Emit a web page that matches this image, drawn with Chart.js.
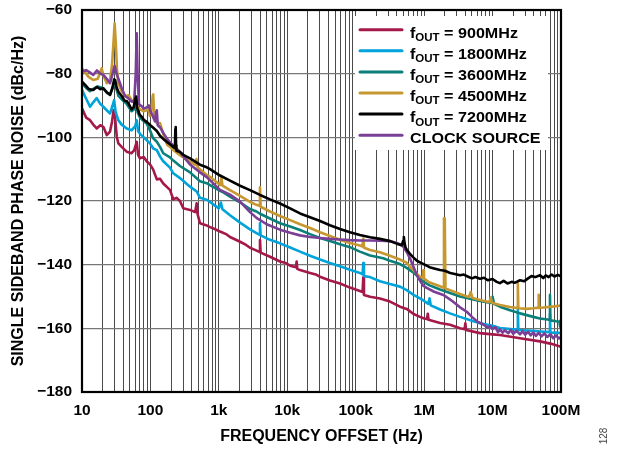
<!DOCTYPE html>
<html>
<head>
<meta charset="utf-8">
<script src="https://cdn.jsdelivr.net/npm/chart.js@4.4.0/dist/chart.umd.min.js"></script>
<style>
html,body{margin:0;padding:0;background:#fff;}
#wrap{position:relative;width:618px;height:449px;}
</style>
</head>
<body>
<div id="wrap"><canvas id="c" width="618" height="449"></canvas></div>
<script>
// ---- tick definitions ----
const xDecadeLabels = ['10', '100', '1k', '10k', '100k', '1M', '10M', '100M'];
const yTickValues = [-180, -160, -140, -120, -100, -80, -60];

// ---- series names / colours ----
const seriesNames = ['900MHz', '1800MHz', '3600MHz', '4500MHz', '7200MHz', 'CLOCK SOURCE'];
const seriesColors = ['#A4194A', '#00A3DA', '#0B7F7A', '#C6982F', '#000000', '#7B3F96'];

// ---- data: [offset frequency (Hz), phase noise (dBc/Hz)] ----
const pn900 = [
[10,-90.9],[11.5,-93.8],[13.1,-94.6],[14.6,-96],[16.4,-97.2],[18.5,-96.2],[20.5,-96.7],[23,-99.3],[25.7,-98.2],[27.5,-95],[29,-91.4],[30.5,-94],[32.2,-99.8],[34,-101.9],[38,-103],[45,-104.5],[53,-105],[58,-104],[63,-101.4],[66,-105.5],[70.4,-106.6],[80,-106.2],[88,-107.5],[98.6,-108.5],[109,-110],[124,-113.2],[138,-113],[154,-114.5],[193,-116.5],[216,-119.5],[240,-119],[270,-120],[302,-122.3],[379,-122.8],[450,-123.5],[474,-120.7],[490,-124.2],[530,-127],[650,-127.6],[743,-128.2],[870,-128.8],[1040,-129.6],[1300,-130.5],[1456,-131.3],[2040,-132.8],[2500,-133.8],[2853,-134.7],[3500,-135.5],[3900,-136],[3990,-132.3],[4080,-136.2],[5590,-137.5],[7820,-139],[9500,-139.5],[11000,-140.3],[13400,-140.8],[13700,-139],[14000,-141.3],[15350,-141.7],[21500,-142.6],[26900,-143.2],[30100,-143.8],[42000,-145],[58900,-145.9],[82400,-147.2],[115000,-148.3],[126000,-148.6],[129000,-144],[132000,-149.5],[162000,-150.1],[226000,-150.6],[317000,-151.6],[444000,-153.2],[556000,-153.9],[700000,-155.5],[869000,-156.4],[1.0e6,-156.9],[1.1e6,-157.1],[1.13e6,-155.4],[1.16e6,-157.3],[1.71e6,-158.3],[2.39e6,-158.9],[3.34e6,-160],[3.9e6,-160.3],[4.0e6,-158.4],[4.1e6,-160.5],[6.55e6,-161.5],[1e7,-161.9],[1.28e7,-162.1],[2.52e7,-163.1],[4.93e7,-164.1],[7e7,-164.8],[1e8,-165.8]
];
const pn1800 = [
[10,-85.1],[11,-87],[13.1,-90.4],[14.6,-89],[16.4,-87.7],[18.5,-89.5],[20.5,-90.4],[23,-91.5],[25.7,-92.5],[28,-90],[29.5,-88.3],[31,-92],[33.9,-94.6],[38,-96],[45,-97.2],[53,-97.8],[60,-96.5],[63,-94.6],[66,-98],[70.4,-98.9],[80,-100],[98.6,-101.9],[110,-103.5],[124,-104],[138,-106],[154,-107.5],[193,-109.5],[216,-111.3],[270,-112.8],[379,-115.5],[474,-117],[530,-119],[665,-119.6],[743,-120.3],[900,-121.6],[1000,-122.3],[1070,-120.5],[1130,-122.6],[1456,-124.5],[2040,-126.8],[2853,-128.9],[3500,-130],[3900,-130.6],[3990,-127],[4080,-130.8],[5590,-132.2],[7820,-133.3],[11000,-134.6],[15350,-135.9],[21500,-137.2],[30100,-138.4],[42000,-139.5],[58900,-140.5],[82400,-141.6],[115000,-142.6],[126000,-143],[129000,-139.5],[132000,-143.6],[162000,-143.9],[226000,-145.2],[317000,-146.1],[444000,-146.9],[556000,-148],[700000,-149.5],[869000,-150.6],[1.0e6,-151.4],[1.15e6,-152.3],[1.2e6,-150.6],[1.25e6,-152.8],[1.71e6,-154.1],[2.39e6,-155.3],[3.34e6,-156.4],[4.5e6,-157.3],[6.55e6,-158.4],[1e7,-159.2],[1.28e7,-159.9],[2.0e7,-160.3],[2.3e7,-160.4],[2.34e7,-153.7],[2.38e7,-160.5],[3.2e7,-160.7],[3.94e7,-160.8],[5e7,-161],[6.8e7,-161.2],[6.9e7,-155.5],[7.0e7,-161.4],[8.5e7,-161.3],[1e8,-161.5]
];
const pn3600 = [
[10,-83],[11.5,-84.5],[13.1,-85.5],[14.6,-84.8],[17,-84],[20.5,-84.6],[23,-86],[25.7,-86.5],[28,-84.5],[30,-82.5],[32,-85],[34,-87],[40,-88.5],[45,-89.5],[53,-91.8],[59,-91],[62,-88.5],[65,-92.2],[70.4,-93.8],[80,-95],[88,-95.6],[98.6,-97.8],[109,-100.2],[124,-101.4],[138,-103],[154,-105],[193,-106.3],[216,-107.3],[270,-109],[379,-111],[530,-113.8],[665,-114.4],[743,-115],[1040,-116.8],[1160,-117.3],[1456,-118.6],[2040,-120.4],[2853,-122.5],[3550,-123.3],[3990,-124],[5590,-125.5],[7820,-127],[11000,-128],[15350,-129.1],[21500,-130.4],[30100,-131.6],[42000,-132.6],[58900,-133.6],[82400,-134.5],[115000,-135.9],[162000,-137.1],[253000,-138],[317000,-138.8],[444000,-139.8],[556000,-141],[700000,-142.5],[869000,-144.4],[1.0e6,-145.5],[1.2e6,-146.5],[1.71e6,-147.8],[2.39e6,-148.9],[3.34e6,-150],[4.5e6,-150.6],[6.55e6,-151.4],[9.5e6,-152],[1e7,-150.1],[1.05e7,-152.3],[1.28e7,-153.2],[1.8e7,-154.3],[2.52e7,-155.3],[3.94e7,-156.4],[4.93e7,-156.9],[6.8e7,-157.3],[6.9e7,-149.5],[7.0e7,-157.5],[8.5e7,-157.8],[9.5e7,-157.9],[9.7e7,-159.5],[9.9e7,-157.5],[1e8,-157.4]
];
const pn4500 = [
[10,-78.3],[11,-79.5],[12.5,-81],[14.6,-82],[17,-81.6],[18.5,-79.5],[19.4,-78.3],[20.5,-80.5],[23,-83],[25.7,-82],[27.5,-77],[28.8,-70.5],[30,-64.2],[31.2,-70.5],[32.5,-79],[33.9,-83],[38,-85.5],[42.5,-87],[48,-86.8],[53.2,-88.3],[60,-89.5],[70.4,-91.2],[80,-91.8],[88,-91.5],[93,-90.5],[98,-93.3],[104,-91],[108,-87],[110,-86.5],[113,-93],[124,-95.5],[138,-95.5],[154,-99],[175,-102.3],[193,-103],[216,-104],[270,-105.6],[379,-107.6],[450,-108.6],[470,-106.8],[490,-109.4],[530,-110],[665,-111.8],[800,-112.9],[1040,-115],[1090,-112.8],[1130,-115.2],[1456,-116.6],[2040,-118.4],[2853,-120.3],[3550,-121.2],[3900,-121.5],[3990,-115.7],[4080,-121.8],[5590,-123.3],[7820,-124.7],[11000,-126],[15350,-127.3],[21500,-128.5],[30100,-129.8],[42000,-131],[58900,-132.2],[82400,-133.2],[115000,-134],[125000,-134.3],[129000,-131.8],[133000,-134.7],[162000,-135.4],[226000,-136.1],[317000,-137.2],[444000,-138.4],[556000,-139.4],[621000,-140.6],[778000,-142.8],[869000,-143.8],[960000,-144.1],[975000,-141.8],[995000,-144.4],[1.2e6,-145.6],[1.52e6,-146.4],[1.9e6,-147.2],[1.95e6,-125.4],[2.0e6,-125.4],[2.05e6,-147.5],[2.39e6,-148],[3.34e6,-149.2],[4.5e6,-150.2],[4.8e6,-148.6],[5.1e6,-150.5],[6.55e6,-151.1],[9e6,-151.8],[9.4e6,-150.3],[9.8e6,-152],[1.28e7,-152.7],[1.8e7,-153.3],[2.3e7,-153.6],[2.34e7,-145.9],[2.38e7,-153.7],[3.2e7,-153.9],[3.94e7,-153.7],[4.66e7,-153.5],[4.72e7,-149.5],[4.78e7,-153.6],[6e7,-153.4],[8e7,-153.1],[1e8,-152.8]
];
const pn7200 = [
[10,-82.5],[11.2,-83.6],[12.5,-84.8],[14.6,-85.1],[16.5,-84.2],[18.5,-84.9],[20.5,-84.6],[23,-85.8],[25.7,-86.7],[27.8,-84.5],[29.5,-81.8],[30.5,-82],[32,-84.3],[34,-85.7],[38,-87],[42,-88.5],[45,-88.6],[49,-89.8],[53,-91.2],[57,-90.5],[60,-88],[62,-87.2],[64,-90.8],[70,-93],[75,-93.6],[80,-94.5],[90,-95.3],[98.6,-96.1],[110,-97],[124,-98],[138,-99.5],[154,-100.5],[175,-101.5],[193,-102.2],[215,-103],[228,-103.4],[231,-97.5],[234,-96.8],[237,-102.5],[240,-104.2],[270,-104.6],[302,-105.5],[379,-106.6],[530,-108.6],[665,-109.4],[743,-110],[1040,-112],[1456,-113.6],[2040,-115.2],[2853,-116.6],[3990,-118.1],[5590,-119.5],[7820,-120.8],[11000,-122.3],[15350,-123.9],[21500,-125.1],[30100,-126.3],[42000,-127.6],[58900,-128.8],[82400,-129.8],[115000,-130.7],[162000,-131.4],[226000,-131.9],[317000,-132.6],[397000,-133.4],[470000,-133.9],[495000,-132.5],[505000,-131.3],[515000,-133],[535000,-134.6],[556000,-135.3],[621000,-136.6],[700000,-137.8],[778000,-138.7],[869000,-139.3],[1.0e6,-139.9],[1.2e6,-140.8],[1.4e6,-141.2],[1.71e6,-141.7],[2.0e6,-141.9],[2.4e6,-142.6],[2.8e6,-142.9],[3.34e6,-143.3],[3.8e6,-143.1],[4.4e6,-143.8],[5e6,-144.3],[5.6e6,-143.9],[6.55e6,-144.4],[7.5e6,-144.1],[8.5e6,-144.9],[1e7,-144.5],[1.15e7,-145.4],[1.28e7,-145.8],[1.45e7,-145.1],[1.65e7,-145.9],[1.9e7,-145.4],[2.1e7,-145.7],[2.52e7,-144.9],[2.9e7,-145.2],[3.3e7,-144.3],[3.7e7,-143.6],[4.2e7,-143.9],[4.93e7,-143.3],[5.5e7,-144.2],[6e7,-143.4],[6.6e7,-143.9],[7.3e7,-143.1],[8e7,-143.7],[9e7,-143.2],[1e8,-143.7]
];
const pnClock = [
[10,-79.4],[11.5,-78.9],[13,-79.6],[14.6,-80.4],[16.5,-79],[18.5,-80],[20.5,-80.4],[23,-81.6],[25.7,-83],[28,-80],[30,-77.5],[32,-80],[33.9,-81.5],[38,-84.5],[42.5,-87],[48,-87.8],[53.2,-88.8],[58,-88.5],[61,-80],[63,-67.3],[65,-80],[68,-89.5],[74.5,-90.2],[80,-91],[88,-90.6],[95,-90],[100,-91.7],[109,-93.5],[117,-95],[121,-92],[124,-91.5],[128,-96.2],[140,-97],[154,-98.6],[175,-100.5],[193,-101.5],[216,-102.6],[270,-104.5],[302,-106],[379,-108.5],[530,-111],[665,-112.5],[1040,-116.5],[1456,-118],[2040,-120.2],[2853,-123.5],[3550,-125.3],[5000,-127.3],[7820,-129],[11000,-130],[15350,-130.8],[21500,-131.3],[30100,-131.6],[42000,-131.9],[58900,-132.1],[82400,-132.3],[115000,-132.4],[162000,-132.4],[226000,-132.5],[317000,-132.6],[397000,-133.2],[444000,-133.6],[496000,-134.4],[556000,-136],[621000,-138],[694000,-140.6],[778000,-143.2],[869000,-145],[972000,-146.6],[1.09e6,-147.3],[1.4e6,-148.5],[1.91e6,-149.5],[2.6e6,-151.5],[3.34e6,-153.4],[4.19e6,-154.8],[5e6,-156.4],[6e6,-157.9],[7.33e6,-158.8],[8.5e6,-159.8],[9.2e6,-159.3],[1e7,-160.3],[1.1e7,-159.6],[1.2e7,-161.2],[1.28e7,-160.3],[1.4e7,-161.4],[1.5e7,-160.6],[1.7e7,-161.5],[1.85e7,-160.5],[2e7,-161.7],[2.25e7,-160.8],[2.52e7,-161.9],[2.75e7,-160.9],[3e7,-162],[3.3e7,-161.1],[3.6e7,-162.2],[3.94e7,-161.3],[4.3e7,-162.4],[4.7e7,-161.4],[5.2e7,-162.5],[5.7e7,-161.6],[6.3e7,-162.7],[7e7,-161.9],[7.7e7,-163.1],[8.5e7,-162.2],[9.2e7,-163.2],[1e8,-162.8]
];

const seriesData = [pn900, pn1800, pn3600, pn4500, pn7200, pnClock];
const drawOrder = [5, 4, 3, 2, 0, 1]; // lower = drawn on top

// x grid: 1..9 x 10^n for each decade, plus 1e8
const xGridValues = [];
for (let e = 1; e < 8; e++) {
  for (let m = 1; m < 10; m++) xGridValues.push(m * Math.pow(10, e));
}
xGridValues.push(1e8);

const FONT = '"Liberation Sans", Arial, Helvetica, sans-serif';

const datasets = seriesData.map((arr, i) => ({
  label: seriesNames[i],
  data: arr.map(p => ({ x: p[0], y: p[1] })),
  borderColor: seriesColors[i],
  backgroundColor: seriesColors[i],
  borderWidth: 2.6,
  pointRadius: 0,
  tension: 0,
  fill: false,
  order: drawOrder[i],
  borderJoinStyle: 'round',
  borderCapStyle: 'round'
}));

const framePlugin = {
  id: 'frameLegend',
  afterDatasetsDraw(chart) {
    const { ctx, chartArea: a } = chart;
    ctx.save();
    // frame
    ctx.strokeStyle = '#000';
    ctx.lineWidth = 2.2;
    ctx.strokeRect(a.left, a.top, a.right - a.left, a.bottom - a.top);

    // legend box
    const bx = a.left + 273, by = a.top + 6, bw = 193, bh = 134;
    ctx.fillStyle = '#fff';
    ctx.fillRect(bx, by, bw, bh);
    const lineX0 = bx + 5, lineX1 = bx + 47, textX = bx + 55;
    const sx = 1.15;
    for (let i = 0; i < seriesNames.length; i++) {
      const base = by + 21.5 + i * 21.1;
      ctx.strokeStyle = seriesColors[i];
      ctx.lineWidth = 3;
      ctx.lineCap = 'round';
      ctx.beginPath();
      ctx.moveTo(lineX0, base - 7.8);
      ctx.lineTo(lineX1, base - 7.8);
      ctx.stroke();

      ctx.save();
      ctx.translate(textX, base);
      ctx.scale(sx, 1);
      ctx.fillStyle = '#000';
      ctx.textBaseline = 'alphabetic';
      ctx.textAlign = 'left';
      if (seriesNames[i] === 'CLOCK SOURCE') {
        ctx.font = 'bold 14px ' + FONT;
        ctx.fillText(seriesNames[i], 0, 0);
      } else {
        ctx.font = 'bold 14px ' + FONT;
        ctx.fillText('f', 0, 0);
        let w = ctx.measureText('f').width;
        ctx.font = 'bold 10px ' + FONT;
        ctx.fillText('OUT', w, 3.6);
        w += ctx.measureText('OUT').width;
        ctx.font = 'bold 14px ' + FONT;
        ctx.fillText(' = ' + seriesNames[i], w, 0);
      }
      ctx.restore();
    }
    ctx.restore();
  },
  afterDraw(chart) {
    const ctx = chart.ctx;
    ctx.save();
    ctx.translate(604, 436);
    ctx.rotate(-Math.PI / 2);
    ctx.font = '10px ' + FONT;
    ctx.fillStyle = '#444';
    ctx.textAlign = 'center';
    ctx.textBaseline = 'middle';
    ctx.fillText('128', 0, 0);
    ctx.restore();
  }
};

new Chart(document.getElementById('c'), {
  type: 'line',
  data: { datasets },
  options: {
    responsive: false,
    animation: false,
    events: [],
    layout: { padding: { top: 10, right: 57, left: 0, bottom: 0 } },
    plugins: { legend: { display: false }, tooltip: { enabled: false } },
    scales: {
      x: {
        type: 'logarithmic',
        min: 10,
        max: 1e8,
        afterBuildTicks: s => { s.ticks = xGridValues.map(v => ({ value: v })); },
        afterFit: s => { s.height = 57; s.paddingLeft = 0; s.paddingRight = 0; },
        grid: { color: '#4a4a4a', lineWidth: 1, drawTicks: false },
        border: { display: false },
        ticks: {
          autoSkip: false,
          maxRotation: 0,
          minRotation: 0,
          padding: 9,
          color: '#000',
          font: { family: FONT, size: 15.5, weight: 'bold' },
          callback: (v) => {
            const e = Math.log10(v);
            const r = Math.round(e);
            return Math.abs(e - r) < 1e-6 ? xDecadeLabels[r - 1] : '';
          }
        },
        title: {
          display: true,
          text: 'FREQUENCY OFFSET (Hz)',
          color: '#000',
          font: { family: FONT, size: 16, weight: 'bold' },
          padding: { top: 0, bottom: 3 }
        }
      },
      y: {
        min: -180,
        max: -60,
        afterBuildTicks: s => { s.ticks = yTickValues.map(v => ({ value: v })); },
        afterFit: s => { s.width = 82; s.paddingTop = 0; s.paddingBottom = 0; },
        grid: { color: '#777', lineWidth: 1.2, drawTicks: false },
        border: { display: false },
        ticks: {
          padding: 10,
          color: '#000',
          font: { family: FONT, size: 15.5, weight: 'bold' },
          callback: v => (v < 0 ? '\u2212' + Math.abs(v) : String(v))
        },
        title: {
          display: true,
          text: 'SINGLE SIDEBAND PHASE NOISE (dBc/Hz)',
          color: '#000',
          font: { family: FONT, size: 16, weight: 'bold' },
          padding: { top: 9, bottom: 0 }
        }
      }
    }
  },
  plugins: [framePlugin]
});
</script>
</body>
</html>
